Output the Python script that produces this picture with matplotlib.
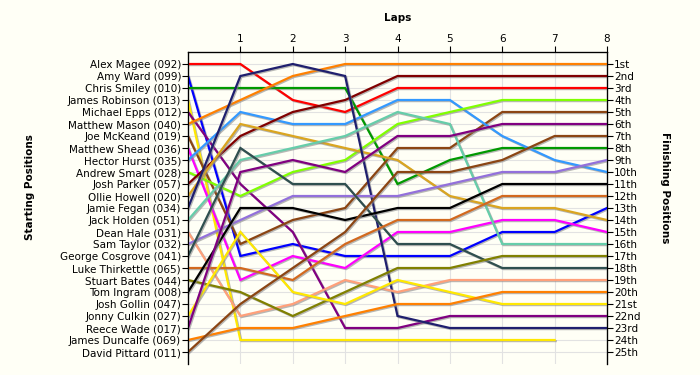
import matplotlib
matplotlib.use("Agg")
import matplotlib.pyplot as plt
import matplotlib.patheffects as pe

# ── data: grid order, colour and position after each lap ──────────────────
drivers = ["Alex Magee (092)", "Amy Ward (099)", "Chris Smiley (010)",
           "James Robinson (013)", "Michael Epps (012)", "Matthew Mason (040)",
           "Joe McKeand (019)", "Matthew Shead (036)", "Hector Hurst (035)",
           "Andrew Smart (028)", "Josh Parker (057)", "Ollie Howell (020)",
           "Jamie Fegan (034)", "Jack Holden (051)", "Dean Hale (031)",
           "Sam Taylor (032)", "George Cosgrove (041)", "Luke Thirkettle (065)",
           "Stuart Bates (044)", "Tom Ingram (008)", "Josh Gollin (047)",
           "Jonny Culkin (027)", "Reece Wade (017)", "James Duncalfe (069)",
           "David Pittard (011)"]

colors = ["#FF0000", "#0000FF", "#009900", "#FFE800", "#800080", "#FF8000",
          "#8B4513", "#FF00FF", "#3399FF", "#80FF00", "#800000", "#DAA520",
          "#1F1F6E", "#66CDAA", "#FFA07A", "#9370DB", "#2F4F4F", "#D2691E",
          "#808000", "#000000", None, "#FFE800", "#800080", "#FF8000", "#8B4513"]

# position at lap 0..8 (shorter list = retired)
positions = [
    [1, 1, 4, 5, 3, 3, 3, 3, 3],
    [2, 17, 16, 17, 17, 17, 15, 15, 13],
    [3, 3, 3, 3, 11, 9, 8, 8, 8],
    [4, 24, 24, 24, 24, 24, 24, 24],
    [5, 11, 15, 23, 23, 22, 22, 22, 22],
    [6, 4, 2, 1, 1, 1, 1, 1, 1],
    [7, 16, 14, 13, 8, 8, 5, 5, 5],
    [8, 19, 17, 18, 15, 15, 14, 14, 15],
    [9, 5, 6, 6, 4, 4, 7, 9, 10],
    [10, 12, 10, 9, 6, 5, 4, 4, 4],
    [11, 7, 5, 4, 2, 2, 2, 2, 2],
    [12, 6, 7, 8, 9, 12, 13, 13, 14],
    [13, 2, 1, 2, 22, 23, 23, 23, 23],
    [14, 9, 8, 7, 5, 6, 16, 16, 16],
    [15, 22, 21, 19, 20, 19, 19, 19, 19],
    [16, 14, 12, 12, 12, 11, 10, 10, 9],
    [17, 8, 11, 11, 16, 16, 18, 18, 18],
    [18, 18, 19, 16, 14, 14, 12, 12, 12],
    [19, 20, 22, 20, 18, 18, 17, 17, 17],
    [20, 13, 13, 14, 13, 13, 11, 11, 11],
    [21],
    [22, 15, 20, 21, 19, 20, 21, 21, 21],
    [23, 10, 9, 10, 7, 7, 6, 6, 6],
    [24, 23, 23, 22, 21, 21, 20, 20, 20],
    [25, 21, 18, 15, 10, 10, 9, 7, 7],
]

laps = list(range(0, 9))
finish_labels = ["1st", "2nd", "3rd"] + [f"{i}th" for i in range(4, 21)] + \
                ["21st", "22nd", "23rd", "24th", "25th"]

bg = "#FFFFF6"
fig = plt.figure(figsize=(7, 3.75), dpi=100, facecolor=bg)
ax = fig.add_axes([188 / 700, 1 - 364 / 375, (607 - 188) / 700, (364 - 52) / 375])
ax.set_facecolor(bg)

shadow = [pe.SimpleLineShadow(offset=(0.8, -0.8), shadow_color="#888888", alpha=0.6),
          pe.Normal()]
for pos, col in zip(positions, colors):
    if col is None or len(pos) < 2:
        continue
    ax.plot(laps[:len(pos)], pos, color=col, lw=1.6, solid_joinstyle="miter",
            path_effects=shadow, zorder=3)

ax.set_xlim(0, 8)
ax.set_ylim(26, 0)

# grid
for p in range(1, 26):
    ax.axhline(p, color="#E2E2E2", lw=0.8, zorder=1)
for l in laps[1:]:
    ax.axvline(l, color="#E2E2E2", lw=0.8, zorder=1)

ax.spines["bottom"].set_visible(False)
for s in ("left", "right", "top"):
    ax.spines[s].set_color("black")
    ax.spines[s].set_linewidth(0.9)

ax.xaxis.tick_top()
ax.set_xticks(laps[1:])
ax.set_xticklabels([str(l) for l in laps[1:]], fontsize=7.5)
ax.tick_params(axis="x", direction="out", length=4, pad=2)
ax.set_yticks(range(1, 26))
ax.set_yticklabels(drivers, fontsize=7.5)
ax.tick_params(axis="y", direction="out", length=4, pad=1)

ax2 = ax.twinx()
ax2.set_ylim(26, 0)
ax2.set_yticks(range(1, 26))
ax2.set_yticklabels(finish_labels, fontsize=7.5)
ax2.tick_params(axis="y", direction="out", length=4, pad=1)
ax2.spines["bottom"].set_visible(False)

fig.text((188 + 607) / 2 / 700, 1 - 18 / 375, "Laps", ha="center", va="center",
         fontsize=7.5, fontweight="bold")
fig.text(30 / 700, 0.5, "Starting Positions", rotation=90, ha="center", va="center",
         fontsize=7.5, fontweight="bold")
fig.text(665 / 700, 0.5, "Finishing Positions", rotation=-90, ha="center", va="center",
         fontsize=7.5, fontweight="bold")

fig.savefig("out.png", dpi=100, facecolor=bg)
